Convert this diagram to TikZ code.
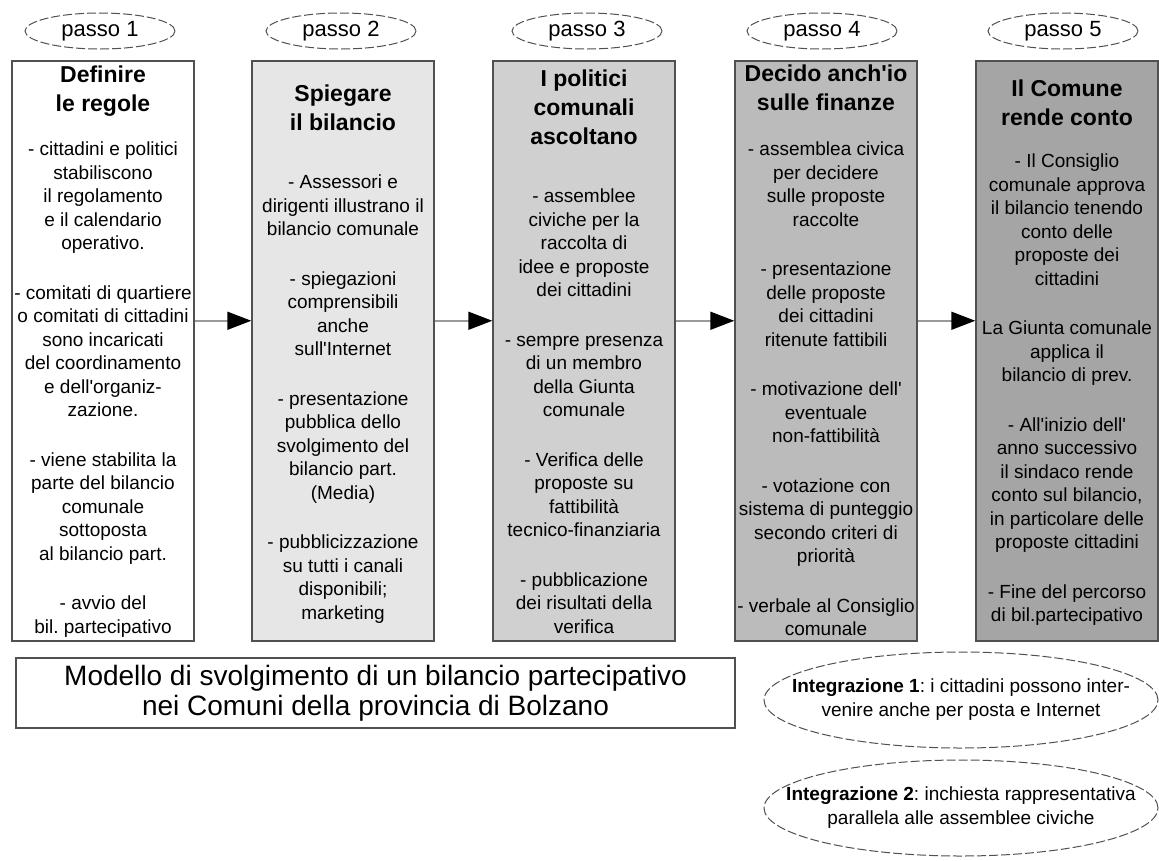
\documentclass[tikz,border=0pt]{standalone}
\usepackage{fontspec}
\setmainfont{Liberation Sans}
\usetikzlibrary{shapes.geometric,arrows.meta}
\definecolor{fillA}{HTML}{FFFFFF}
\definecolor{fillB}{HTML}{E6E6E6}
\definecolor{fillC}{HTML}{D0D0D0}
\definecolor{fillD}{HTML}{BBBBBB}
\definecolor{fillE}{HTML}{A5A5A5}
\definecolor{edge}{HTML}{505050}
\definecolor{flowline}{HTML}{9A9A9A}
\frenchspacing
\begin{document}
\begin{tikzpicture}[x=1pt,y=-1pt,
  stepbox/.style={draw=edge, line width=1.5pt, minimum width=182pt, minimum height=580pt, anchor=north, inner sep=0pt},
  passo/.style={ellipse, draw=edge, line width=1pt, dash pattern=on 9pt off 3pt, fill=white, minimum width=150pt, minimum height=36pt, inner sep=0pt, font=\fontsize{22}{24}\selectfont},
  integ/.style={ellipse, draw=edge, line width=1pt, dash pattern=on 9pt off 3pt, fill=white, minimum width=394pt, minimum height=96pt, inner xsep=-45pt, inner ysep=0pt, align=center, font=\fontsize{19}{24}\selectfont},
  ttl/.style={align=center, font=\bfseries\fontsize{23}{29}\selectfont, anchor=north, inner sep=0pt},
  body/.style={align=center, font=\fontsize{19}{23.5}\selectfont, anchor=north, inner sep=0pt},
  flow/.style={draw=flowline, line width=1.8pt, -{Triangle[length=24pt,width=18pt,color=black]}},
  titlebox/.style={draw=edge, line width=1.5pt, minimum width=719pt, minimum height=70pt, inner sep=0pt, align=center, font=\fontsize{28}{30}\selectfont}
]
\useasboundingbox (0,0) rectangle (1159,860);

% passo labels
\node[passo] (p1) at (100,31) {passo 1};
\node[passo] (p2) at (341,31) {passo 2};
\node[passo] (p3) at (587,31) {passo 3};
\node[passo] (p4) at (822,31) {passo 4};
\node[passo] (p5) at (1063,31) {passo 5};

% boxes
\node[stepbox, fill=fillA] (b1) at (103,60) {};
\node[stepbox, fill=fillB] (b2) at (343,60) {};
\node[stepbox, fill=fillC] (b3) at (584,60) {};
\node[stepbox, fill=fillD] (b4) at (826,60) {};
\node[stepbox, fill=fillE] (b5) at (1067,60) {};

% titles
\node[ttl] (t1) at (103,66) {Definire\\le regole};
\node[ttl] (t2) at (343,85) {Spiegare\\il bilancio};
\node[ttl] (t3) at (584,70) {I politici\\comunali\\ascoltano};
\node[ttl] (t4) at (826,65) {Decido anch\textquotesingle io\\sulle finanze};
\node[ttl] (t5) at (1067,80) {Il Comune\\rende conto};

% bodies
\node[body] (d1) at (103,142) {- cittadini e politici\\stabiliscono\\il regolamento\\e il calendario\\operativo.\\[26pt]
- comitati di quartiere\\o comitati di cittadini\\sono incaricati\\del coordinamento\\e dell\textquotesingle organiz-\\zazione.\\[26pt]
- viene stabilita la\\parte del bilancio\\comunale\\sottoposta\\al bilancio part.\\[26pt]
- avvio del\\bil. partecipativo};

\node[body] (d2) at (343,175) {- Assessori e\\dirigenti illustrano il\\bilancio comunale\\[26pt]
- spiegazioni\\comprensibili\\anche\\sull\textquotesingle Internet\\[26pt]
- presentazione\\pubblica dello\\svolgimento del\\bilancio part.\\(Media)\\[26pt]
- pubblicizzazione\\su tutti i canali\\disponibili;\\marketing};

\node[body] (d3) at (584,189) {- assemblee\\civiche per la\\raccolta di\\idee e proposte\\dei cittadini\\[26pt]
- sempre presenza\\di un membro\\della Giunta\\comunale\\[26pt]
- Verifica delle\\proposte su\\fattibilità\\tecnico-finanziaria\\[26pt]
- pubblicazione\\dei risultati della\\verifica};

\node[body] (d4) at (826,142) {- assemblea civica\\per decidere\\sulle proposte\\raccolte\\[26pt]
- presentazione\\delle proposte\\dei cittadini\\ritenute fattibili\\[26pt]
- motivazione dell\textquotesingle\\eventuale\\non-fattibilità\\[26pt]
- votazione con\\sistema di punteggio\\secondo criteri di\\priorità\\[26pt]
- verbale al Consiglio\\comunale};

\node[body] (d5) at (1067,154) {- Il Consiglio\\comunale approva\\il bilancio tenendo\\conto delle\\proposte dei\\cittadini\\[26pt]
La Giunta comunale\\applica il\\bilancio di prev.\\[26pt]
- All\textquotesingle inizio dell\textquotesingle\\anno successivo\\il sindaco rende\\conto sul bilancio,\\in particolare delle\\proposte cittadini\\[26pt]
- Fine del percorso\\di bil.partecipativo};

% connectors
\draw[flow] ([yshift=30pt]b1.east) -- ([yshift=30pt]b2.west);
\draw[flow] ([yshift=30pt]b2.east) -- ([yshift=30pt]b3.west);
\draw[flow] ([yshift=30pt]b3.east) -- ([yshift=30pt]b4.west);
\draw[flow] ([yshift=30pt]b4.east) -- ([yshift=30pt]b5.west);

% title box
\node[titlebox] (tb) at (375.5,693) {Modello di svolgimento di un bilancio partecipativo\\nei Comuni della provincia di Bolzano};

% integrations
\node[integ] (i1) at (961,700) {\textbf{Integrazione 1}: i cittadini possono inter-\\venire anche per posta e Internet};
\node[integ] (i2) at (961,808) {\textbf{Integrazione 2}: inchiesta rappresentativa\\parallela alle assemblee civiche};
\end{tikzpicture}
\end{document}
